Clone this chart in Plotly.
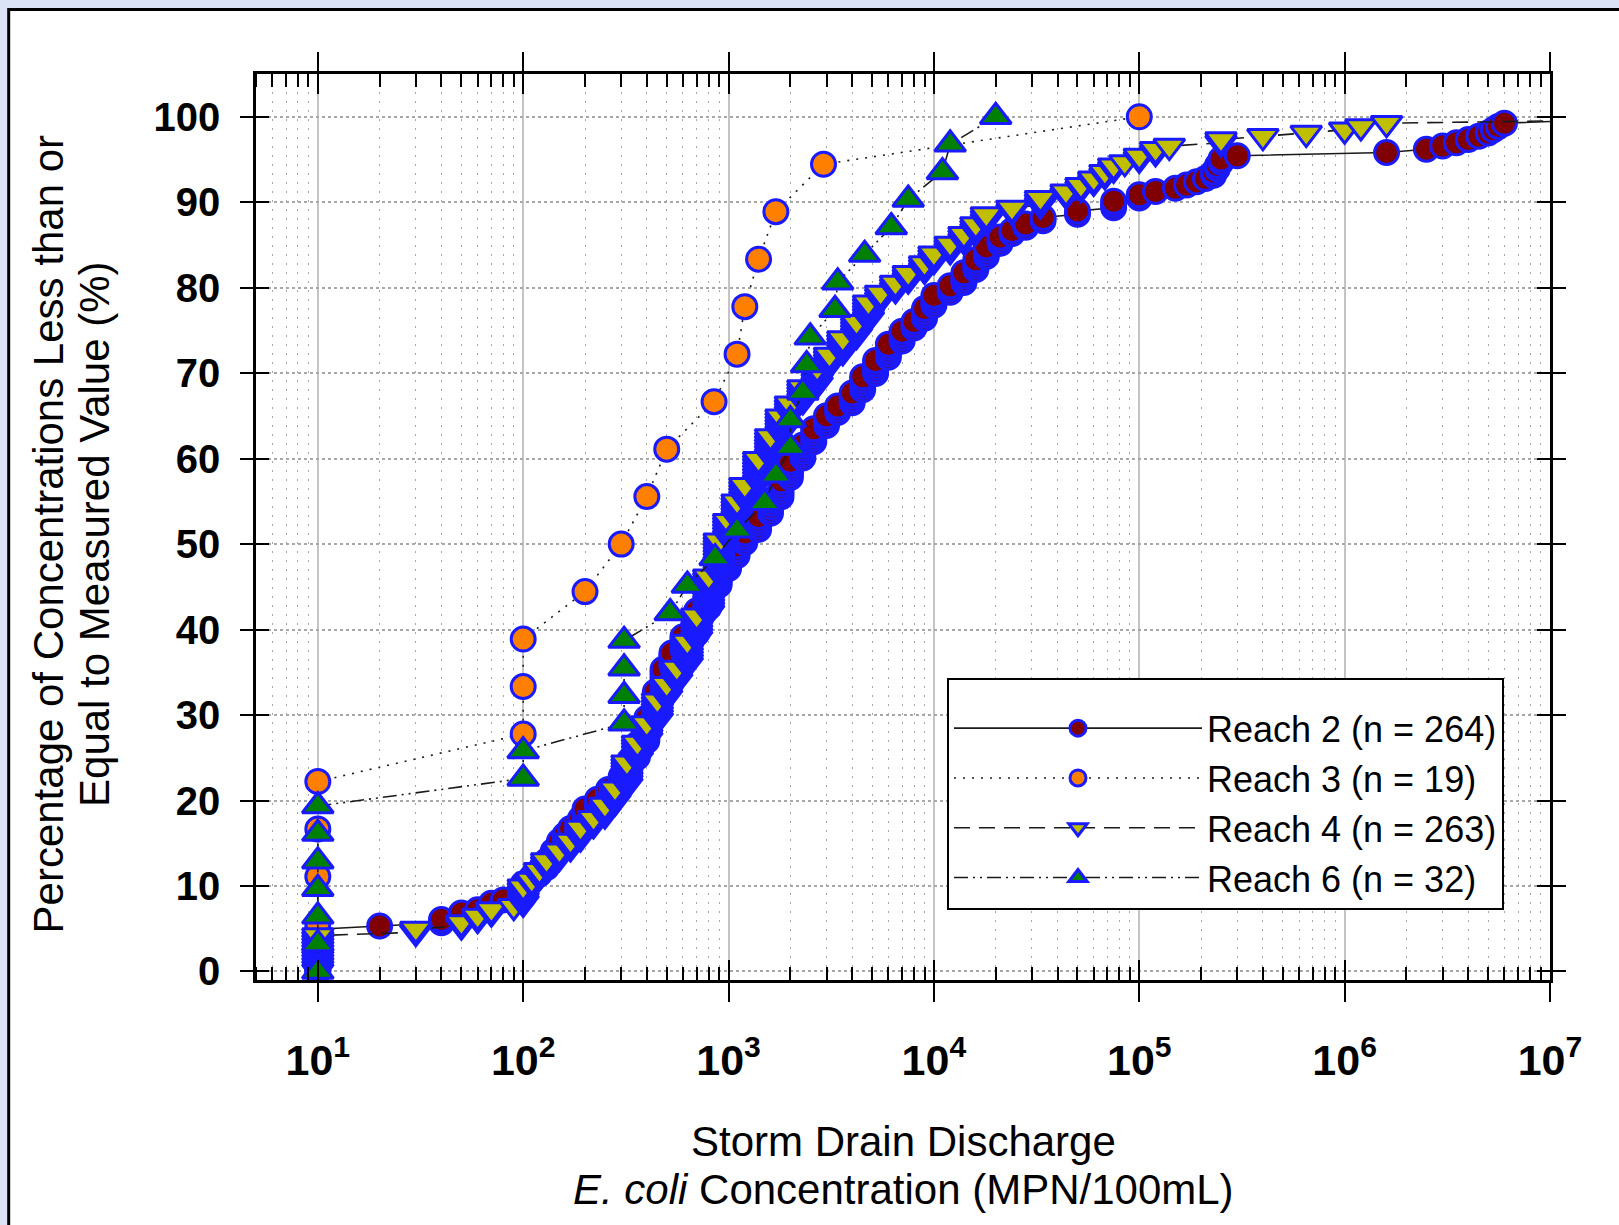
import numpy as np
import plotly.graph_objects as go

# ---------------- data ----------------
# Reach 2 (n = 264): concentration values (MPN/100mL) and number of samples at each value
reach2_conc = [10, 20, 40, 50, 60, 70, 80,
               100, 110, 120, 130, 140, 150, 160, 170, 190, 200,
               230, 260, 300, 330, 360, 400, 440, 480, 530, 600,
               700, 800, 900, 1000, 1100, 1200, 1400, 1600, 1800, 2000,
               2300, 2600, 3000, 3400, 4000, 4500, 5200, 6000, 7000, 8000,
               9000, 10000, 12000, 14000, 16000, 18000, 21000, 24000, 28000, 34000,
               50000, 75000, 100000, 120000, 150000, 170000, 190000, 210000, 230000, 240000,
               250000, 300000, 1600000, 2500000, 3000000, 3500000, 4000000, 4500000, 5000000, 5300000,
               5600000, 6000000, 15000000, 30000000]
reach2_count = [14, 1, 2, 2, 1, 2, 1,
                5, 2, 2, 3, 3, 3, 2, 2, 3, 3,
                3, 3, 4, 5, 5, 8, 8, 7, 5, 5,
                8, 7, 5, 4, 4, 4, 5, 5, 6, 6,
                5, 5, 4, 3, 4, 5, 5, 5, 4, 3,
                4, 4, 3, 4, 4, 4, 3, 2, 2, 2,
                2, 3, 2, 1, 1, 1, 1, 1, 2, 2,
                2, 1, 1, 1, 1, 1, 1, 1, 1, 1,
                1, 1, 1, 1]

# Reach 3 (n = 19)
reach3_conc = [10, 10, 10, 10, 10, 100, 100, 100, 200, 300, 400, 500,
               850, 1100, 1200, 1400, 1700, 2900, 100000]

# Reach 4 (n = 263)
reach4_conc = [10, 30, 50, 60, 70, 90, 100, 110, 120, 130,
               150, 170, 190, 220, 250, 280, 320, 360, 400, 450,
               500, 560, 630, 700, 800, 900, 1000, 1100, 1200, 1400,
               1600, 1800, 2000, 2300, 2700, 3100, 3600, 4200, 4800, 5500,
               6500, 7500, 9000, 10000, 12000, 14000, 16000, 18000, 24000, 33000,
               44000, 52000, 60000, 68000, 75000, 85000, 100000, 120000, 140000, 250000,
               400000, 650000, 1000000, 1200000, 1600000, 20000000, 50000000]
reach4_count = [12, 2, 2, 2, 2, 1, 6, 2, 3, 3,
                3, 3, 4, 3, 4, 5, 8, 6, 6, 7,
                5, 5, 8, 8, 12, 11, 6, 6, 5, 8,
                7, 6, 4, 5, 6, 4, 5, 5, 6, 3,
                3, 3, 3, 3, 3, 3, 3, 3, 2, 3,
                2, 2, 2, 2, 2, 1, 2, 2, 1, 2,
                1, 1, 1, 1, 1, 1, 1]

# Reach 6 (n = 32)
reach6_conc = [10, 10, 10, 10, 10, 10, 10, 100, 100, 310, 310, 310, 310,
               520, 630, 860, 1100, 1500, 1700, 2000, 2000, 2300, 2400, 2500,
               3300, 3400, 4600, 6200, 7500, 11000, 12000, 20000]

series_names = ["Reach 2 (n = 264)", "Reach 3 (n = 19)", "Reach 4 (n = 263)", "Reach 6 (n = 32)"]

x_tick_vals = [10, 100, 1000, 10000, 100000, 1000000, 10000000]
x_tick_text = ["10<sup>1</sup>", "10<sup>2</sup>", "10<sup>3</sup>", "10<sup>4</sup>",
               "10<sup>5</sup>", "10<sup>6</sup>", "10<sup>7</sup>"]
y_tick_vals = [0, 10, 20, 30, 40, 50, 60, 70, 80, 90, 100]

# ---------------- build ----------------
r2 = np.repeat(reach2_conc, reach2_count)
r3 = np.array(reach3_conc)
r4 = np.repeat(reach4_conc, reach4_count)
r6 = np.array(reach6_conc)


def cum_pct(vals):
    n = len(vals)
    return np.arange(n) / (n - 1) * 100.0


styles = [
    dict(fill="#800000", symbol="circle", dash="solid", size=24),
    dict(fill="#ff8000", symbol="circle", dash="2px,7px", size=24),
    dict(fill="#bfbf00", symbol="triangle-down", dash="16px,9px", size=27),
    dict(fill="#008000", symbol="triangle-up", dash="14px,5px,2px,5px,2px,5px", size=27),
]

fig = go.Figure()
for name, vals, st in zip(series_names, [r2, r3, r4, r6], styles):
    vals = np.sort(vals)
    fig.add_trace(go.Scatter(
        x=vals, y=cum_pct(vals), name=name, mode="lines+markers",
        line=dict(color="#1a1a1a", width=1.6, dash=st["dash"]),
        marker=dict(symbol=st["symbol"], size=st["size"], color=st["fill"],
                    line=dict(color="#1a1aff", width=3)),
    ))

# empty trace to hold the overlay axes (inner halves of major ticks)
fig.add_trace(go.Scatter(x=[], y=[], xaxis="x2", yaxis="y2", showlegend=False, hoverinfo="skip"))

minor_vals = [d * 10 ** e for e in range(0, 7) for d in range(2, 10)]

xr = [np.log10(5), 7]
yr = [-1, 105]
font_family = "Arial, Liberation Sans, sans-serif"

fig.update_layout(
    width=1619, height=1225,
    margin=dict(l=256, r=69, t=74, b=245),
    paper_bgcolor="#dae4f6",
    plot_bgcolor="white",
    font=dict(family=font_family, color="black"),
    showlegend=True,
    legend=dict(x=0.534, y=0.3333, xanchor="left", yanchor="top",
                bgcolor="white", bordercolor="black", borderwidth=2,
                font=dict(size=36, family=font_family), itemwidth=248,
                title=dict(text=" ", font=dict(size=14))),
    xaxis=dict(type="log", range=xr, tickmode="array", tickvals=x_tick_vals, ticktext=x_tick_text,
               ticks="outside", ticklen=19, tickwidth=2, tickcolor="black",
               showline=True, linewidth=2.5, linecolor="black", mirror="allticks",
               showgrid=True, gridcolor="#c4c4c4", gridwidth=1.5, zeroline=False,
               tickfont=dict(size=43, weight="bold", family=font_family), ticklabelstandoff=22,
               minor=dict(tickmode="array", tickvals=minor_vals, ticks="inside", ticklen=13,
                          tickwidth=1.5, tickcolor="black", showgrid=True, gridcolor="#a8a8a8",
                          gridwidth=1.3, griddash="2px,7px")),
    yaxis=dict(range=yr, tickmode="array", tickvals=y_tick_vals,
               ticks="outside", ticklen=13, tickwidth=2, tickcolor="black",
               showline=True, linewidth=2.5, linecolor="black", mirror="allticks",
               showgrid=True, gridcolor="#a8a8a8", gridwidth=1.5, griddash="dot", zeroline=False,
               tickfont=dict(size=40, weight="bold", family=font_family), ticklabelstandoff=12),
    xaxis2=dict(type="log", range=xr, overlaying="x", anchor="y", side="bottom",
                tickmode="array", tickvals=x_tick_vals, ticks="inside", ticklen=20, tickwidth=2,
                tickcolor="black", mirror="ticks", showline=False, showgrid=False,
                showticklabels=False, zeroline=False),
    yaxis2=dict(range=yr, overlaying="y", anchor="x", side="left",
                tickmode="array", tickvals=y_tick_vals, ticks="inside", ticklen=13, tickwidth=2,
                tickcolor="black", mirror="ticks", showline=False, showgrid=False,
                showticklabels=False, zeroline=False),
    shapes=[dict(type="rect", xref="paper", yref="paper", layer="below",
                 x0=(8.7 - 256) / 1294, x1=1.3, y0=-0.5, y1=(980 - 9.5) / 906,
                 fillcolor="white", line=dict(color="black", width=3))],
    annotations=[
        dict(text="Percentage of Concentrations Less than or", xref="paper", yref="paper",
             x=(48.5 - 256) / 1294, y=0.4923, textangle=-90, showarrow=False,
             xanchor="center", yanchor="middle", font=dict(size=42, family=font_family)),
        dict(text="Equal to Measured Value (%)", xref="paper", yref="paper",
             x=(95 - 256) / 1294, y=0.4923, textangle=-90, showarrow=False,
             xanchor="center", yanchor="middle", font=dict(size=42, family=font_family)),
        dict(text="Storm Drain Discharge", xref="paper", yref="paper",
             x=0.5, y=(980 - 1141) / 906, showarrow=False,
             xanchor="center", yanchor="middle", font=dict(size=42, family=font_family)),
        dict(text="<i>E. coli</i> Concentration (MPN/100mL)", xref="paper", yref="paper",
             x=0.5, y=(980 - 1189) / 906, showarrow=False,
             xanchor="center", yanchor="middle", font=dict(size=42, family=font_family)),
    ],
)

fig.write_html("out.html", config={"displayModeBar": False},
               post_script="document.body.style.margin='0px';")
